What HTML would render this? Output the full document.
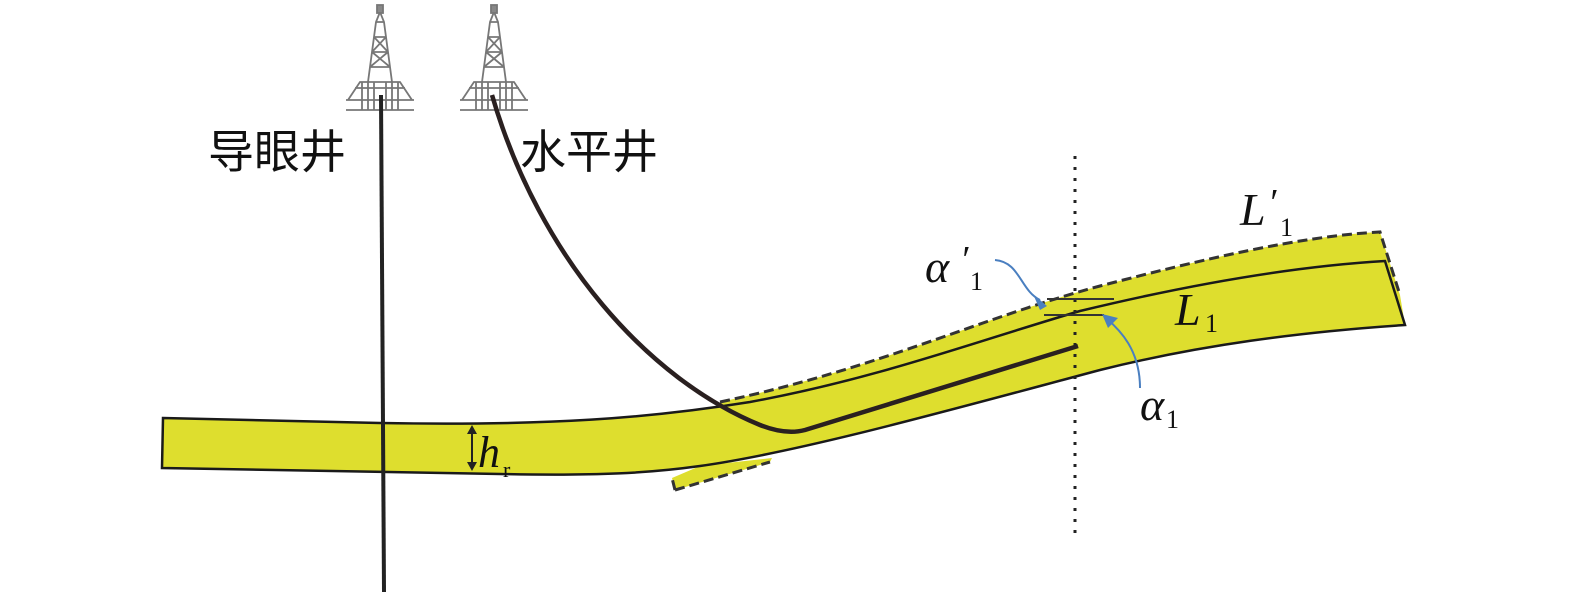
<!DOCTYPE html>
<html><head><meta charset="utf-8"><style>
html,body{margin:0;padding:0;background:#fff;width:1575px;height:600px;overflow:hidden}
svg{display:block}
.t{font-family:"Liberation Serif",serif;font-style:italic;fill:#111}
.s{font-family:"Liberation Serif",serif;fill:#111}
</style></head><body>
<svg width="1575" height="600" viewBox="0 0 1575 600" xmlns="http://www.w3.org/2000/svg">
<defs>
<g id="rig" stroke="#777" fill="none" stroke-width="1.8">
<path d="M0,0 L-4,10 L-8,40 L-12,70 M0,0 L4,10 L8,40 L12,70 M-4,10 L4,10 M-6,25 L6,25 M-8,40 L8,40 M-10,55 L10,55 M-6,25 L8,40 M6,25 L-8,40 M-8,40 L10,55 M8,40 L-10,55"/>
<path d="M-32,88 L-20,70 L20,70 L32,88 M-34,88 L34,88 M-25,76 L25,76 M-18,70 L-18,98 M18,70 L18,98 M-12,70 L-12,98 M12,70 L12,98 M-6,70 L-6,98 M6,70 L6,98 M-34,98 L34,98" />
<rect x="-3" y="-7" width="6" height="8" fill="#888"/>
</g>
</defs>
<use href="#rig" x="380" y="12"/>
<use href="#rig" x="494" y="12"/>
<!-- displaced layer fill (union) -->
<path d="M720,402 C880,368 980,318 1100,286 C1200,260 1300,236 1380,232 L1400,295 L1405,325 C1300,332 1200,345 1100,370 C950,410 800,452 700,466 Z" fill="#dede2e"/>
<path d="M672,478 L675,490 L770,462 L772,458 L700,466 Z" fill="#dede2e"/>
<!-- main layer -->
<path d="M163,418 L380,423 C550,426 650,418 750,402 C880,378 980,340 1080,311 C1200,282 1300,266 1385,261 L1405,325 C1300,332 1200,345 1100,370 C950,410 800,452 700,466 C650,473 600,476 500,474 L162,468 Z" fill="#dede2e" stroke="#1a1a1a" stroke-width="2.5"/>
<!-- dashed boundaries -->
<path d="M720,402 C880,368 980,318 1100,286 C1200,260 1300,236 1380,232 L1400,295" fill="none" stroke="#333" stroke-width="3" stroke-dasharray="10,5"/>
<path d="M675,490 L672,478 M675,490 L770,462" fill="none" stroke="#333" stroke-width="3" stroke-dasharray="10,5"/>
<!-- pilot well -->
<line x1="381" y1="95" x2="384" y2="592" stroke="#222" stroke-width="4"/>
<!-- horizontal well -->
<path d="M492,95 C540,260 650,380 760,425 C775,431 790,434 805,430 L1078,346" fill="none" stroke="#2a2020" stroke-width="4.5"/>
<!-- dotted line -->
<line x1="1075" y1="156" x2="1075" y2="540" stroke="#222" stroke-width="3" stroke-dasharray="3,8"/>
<!-- angle marks -->
<line x1="1047" y1="299" x2="1114" y2="299" stroke="#333" stroke-width="2"/>
<line x1="1044" y1="315" x2="1104" y2="315" stroke="#333" stroke-width="2"/>
<!-- blue arrows -->
<path d="M995,260 C1020,262 1020,290 1040,300" fill="none" stroke="#4a7fc0" stroke-width="2"/>
<path d="M1047,306 L1033,294 L1040,310 Z" fill="#4a7fc0"/>
<path d="M1140,388 C1140,350 1120,330 1106,318" fill="none" stroke="#4a7fc0" stroke-width="2"/>
<path d="M1102,314 L1118,318 L1108,328 Z" fill="#4a7fc0"/>
<!-- hr arrow -->
<line x1="472" y1="430" x2="472" y2="466" stroke="#222" stroke-width="2"/>
<path d="M472,425 L467,434 L477,434 Z M472,471 L467,462 L477,462 Z" fill="#222"/>
<!-- labels -->
<text x="208" y="168" font-family="'Liberation Sans','Noto Sans CJK SC',sans-serif" font-size="46" fill="#111">导眼井</text>
<text x="520" y="168" font-family="'Liberation Sans','Noto Sans CJK SC',sans-serif" font-size="46" fill="#111">水平井</text>
<text x="478" y="467" class="t" font-size="44">h</text><text x="503" y="477" class="s" font-size="22">r</text>
<text x="1240" y="225" class="t" font-size="46">L</text><text x="1268" y="215" class="t" font-size="38">′</text><text x="1280" y="236" class="s" font-size="26">1</text>
<text x="1175" y="325" class="t" font-size="46">L</text><text x="1205" y="332" class="s" font-size="26">1</text>
<text x="925" y="282" class="t" font-size="46">α</text><text x="960" y="272" class="t" font-size="38">′</text><text x="970" y="290" class="s" font-size="26">1</text>
<text x="1140" y="420" class="t" font-size="46">α</text><text x="1166" y="428" class="s" font-size="26">1</text>
</svg>
</body></html>
